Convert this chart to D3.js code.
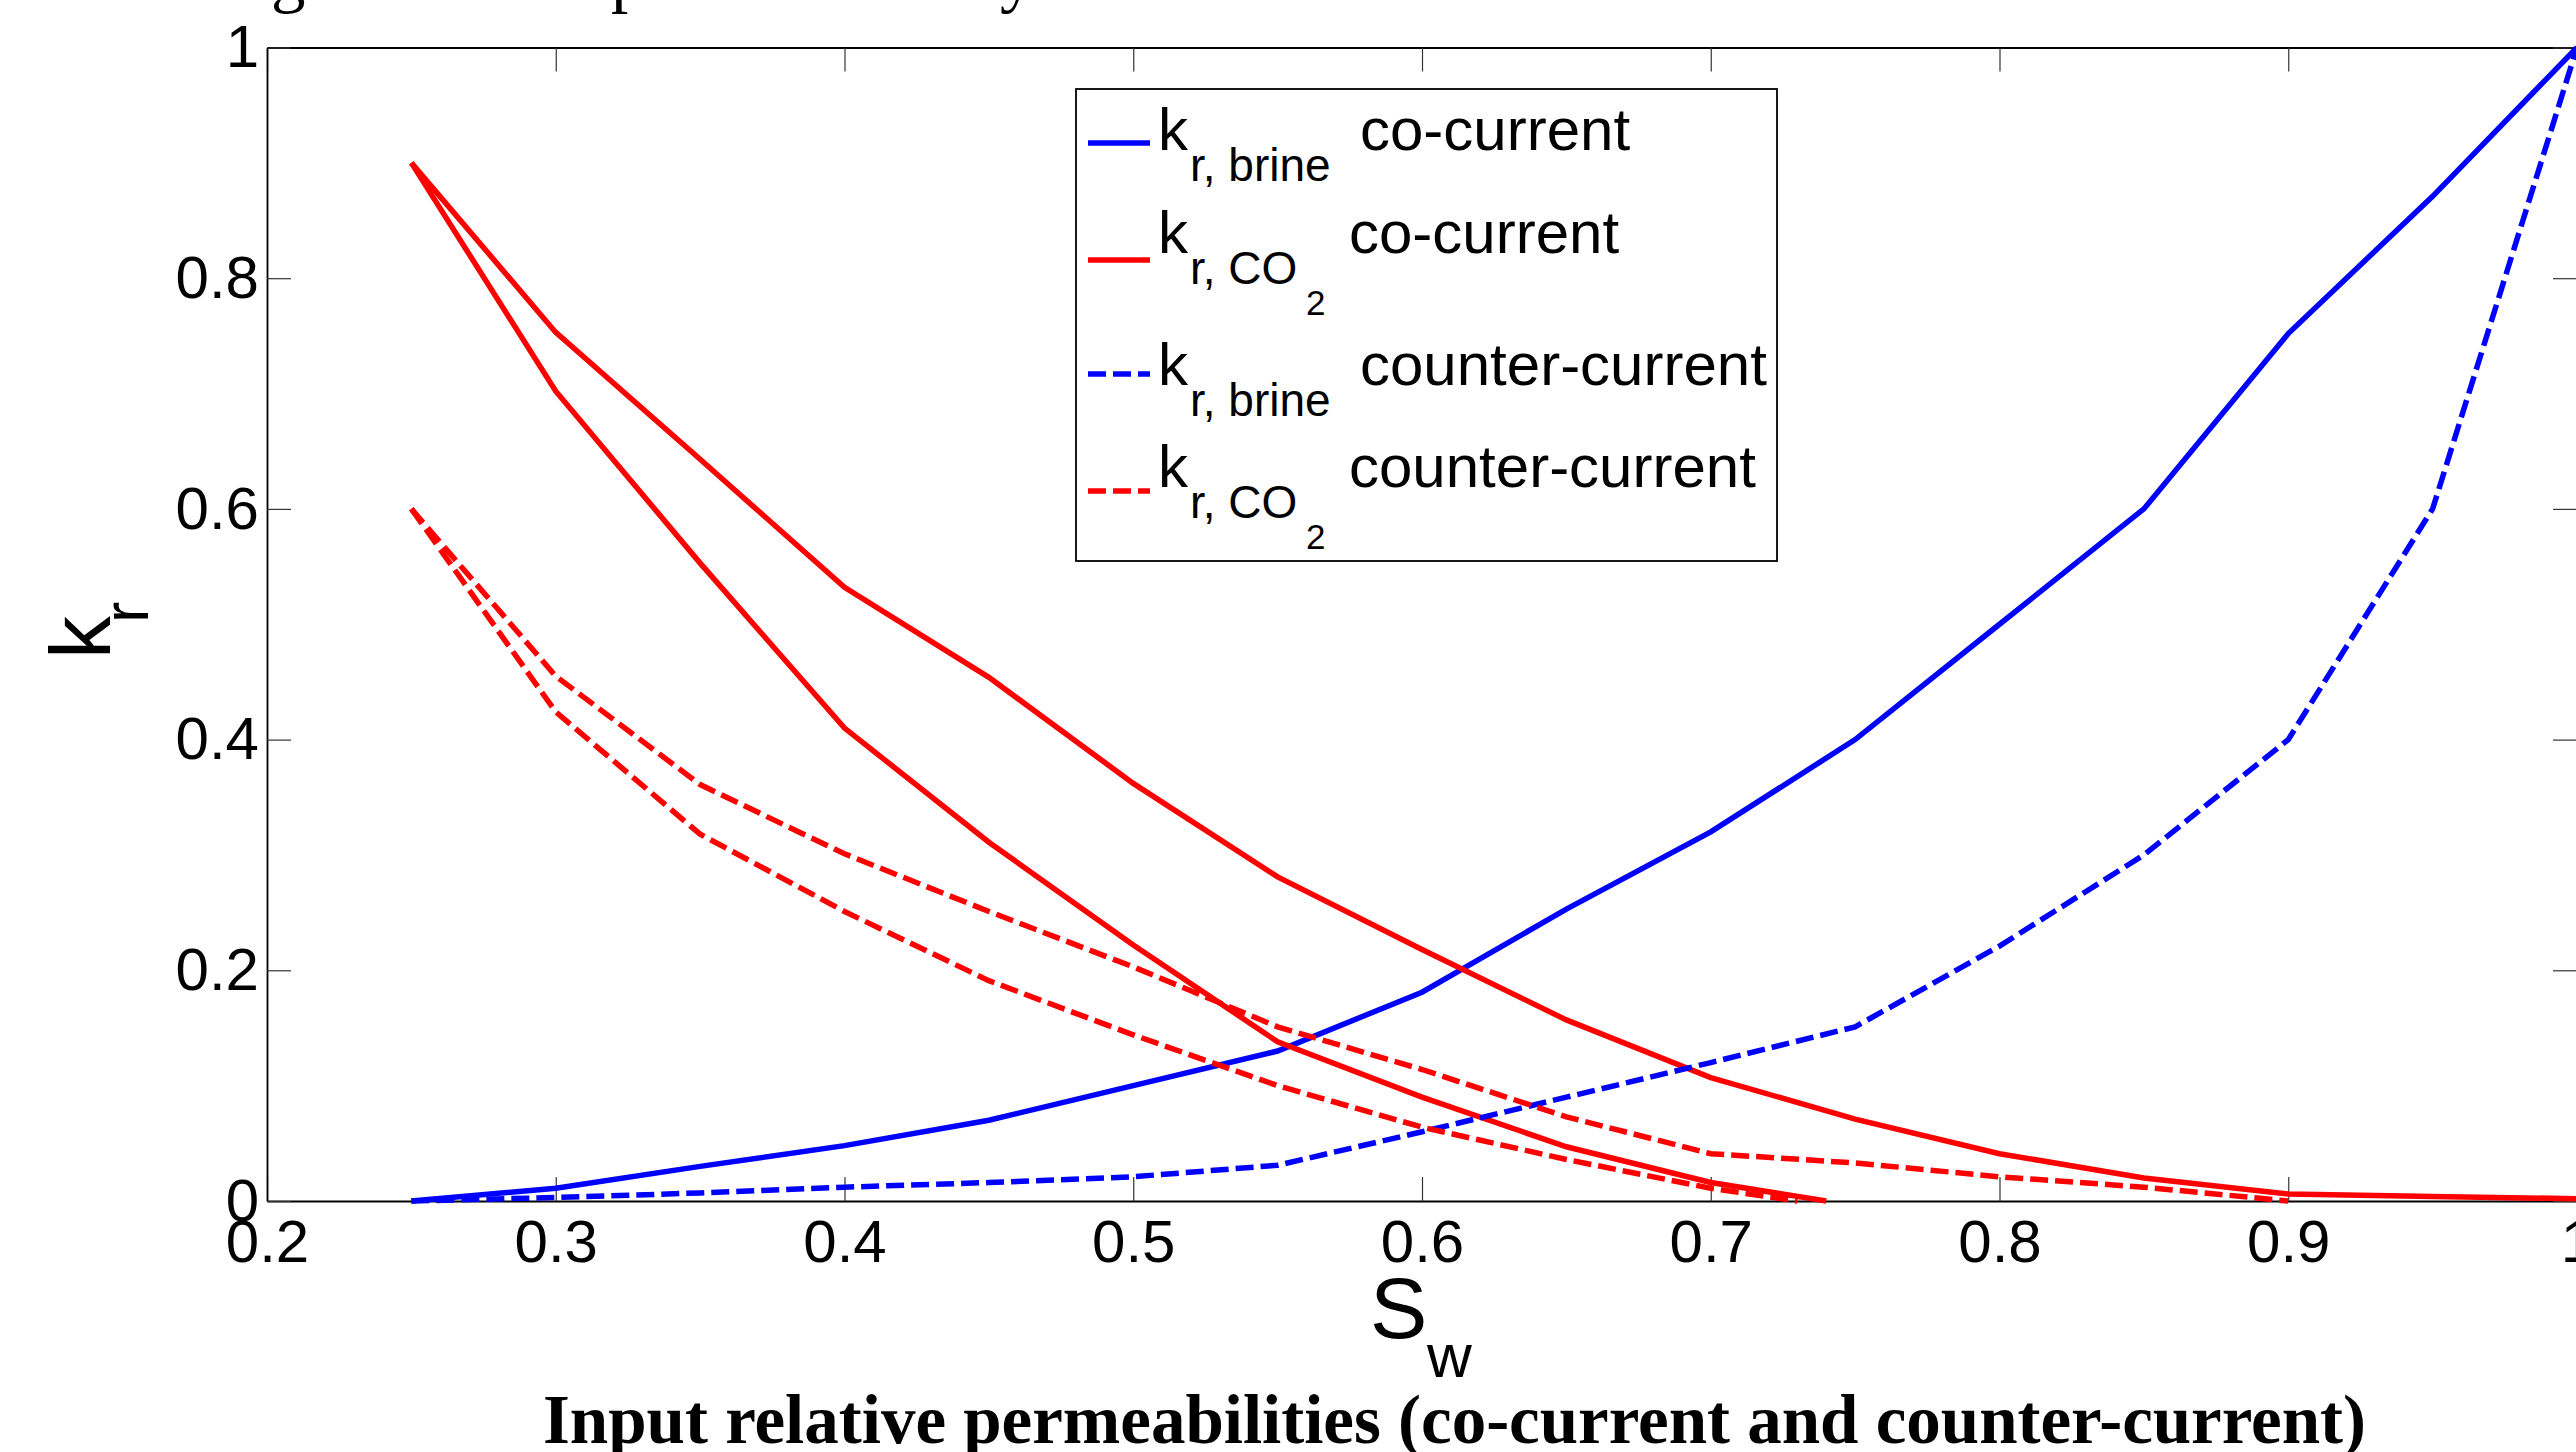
<!DOCTYPE html>
<html>
<head>
<meta charset="utf-8">
<script src="https://cdn.jsdelivr.net/npm/d3@7"></script>
<style>
  html, body { margin: 0; padding: 0; background: #fff; overflow: hidden; }
  svg { display: block; }
  .sans { font-family: "Liberation Sans", Arial, Helvetica, sans-serif; }
  .serif { font-family: "Liberation Serif", "Times New Roman", serif; font-weight: bold; }
  .serifReg { font-family: "Liberation Serif", "Times New Roman", serif; font-weight: normal; }
</style>
</head>
<body>
<script>
// ---------------- data ----------------
const sw = [0.25,0.3,0.35,0.4,0.45,0.5,0.55,0.6,0.65,0.7,0.75,0.8,0.85,0.9,0.95,1.0];
const krBrineCo = [0,0.011,0.03,0.048,0.07,0.1,0.13,0.181,0.253,0.32,0.4,0.5,0.6,0.752,0.871,1.0];
const krBrineCounter = [0,0.003,0.007,0.012,0.016,0.021,0.031,0.06,0.09,0.12,0.151,0.221,0.3,0.4,0.6,1.0];

const krCO2CoA = [0.9,0.753,0.643,0.532,0.454,0.362,0.281,0.218,0.157,0.107,0.071,0.041,0.02,0.006,0.004,0.002];
const swCO2CoB = [0.25,0.3,0.35,0.4,0.45,0.5,0.55,0.6,0.65,0.7,0.74];
const krCO2CoB = [0.9,0.702,0.553,0.41,0.311,0.222,0.138,0.09,0.047,0.016,0];

const swCO2CounterA = [0.25,0.3,0.35,0.4,0.45,0.5,0.55,0.6,0.65,0.7,0.75,0.8,0.85,0.9];
const krCO2CounterA = [0.6,0.455,0.361,0.301,0.251,0.203,0.151,0.114,0.073,0.041,0.033,0.021,0.012,0.0];
const swCO2CounterB = [0.25,0.3,0.35,0.4,0.45,0.5,0.55,0.6,0.65,0.7,0.73];
const krCO2CounterB = [0.6,0.424,0.318,0.251,0.191,0.144,0.1,0.064,0.036,0.011,0];

const xTicks = [0.2,0.3,0.4,0.5,0.6,0.7,0.8,0.9,1.0];
const xTickLabels = ["0.2","0.3","0.4","0.5","0.6","0.7","0.8","0.9","1"];
const yTicks = [0,0.2,0.4,0.6,0.8,1.0];
const yTickLabels = ["0","0.2","0.4","0.6","0.8","1"];

const legendItems = [
  {sub: "r, brine", two: false, text: "co-current", color: "#0000ff", dashed: false},
  {sub: "r, CO", two: true, text: "co-current", color: "#ff0000", dashed: false},
  {sub: "r, brine", two: false, text: "counter-current", color: "#0000ff", dashed: true},
  {sub: "r, CO", two: true, text: "counter-current", color: "#ff0000", dashed: true}
];
const captionText = "Input relative permeabilities (co-current and counter-current)";
const topLineGlyphs = ["g", "p", "y"];

// ---------------- layout ----------------
const W = 2576, H = 1452;
const X0 = 267, X1 = 2577, Y0 = 1201, Y1 = 47.5;
const DASH = "18,7";
const LW = 5.5;

const svg = d3.select("body").append("svg").attr("width", W).attr("height", H);

const x = d3.scaleLinear().domain([0.2, 1.0]).range([X0, X1]);
const y = d3.scaleLinear().domain([0, 1]).range([Y0, Y1]);

// top cut-off caption line (only descenders visible)
const topLineX = [271, 611, 1000];
topLineGlyphs.forEach((ch, i) => {
  svg.append("text").attr("class", "serifReg").attr("x", topLineX[i]).attr("y", -1)
    .attr("font-size", 69).text(ch);
});

// axes
const tickFmt = labels => (d, i) => labels[i];
const gB = svg.append("g").attr("transform", `translate(0,${Y0})`)
  .call(d3.axisBottom(x).tickValues(xTicks).tickFormat(tickFmt(xTickLabels)).tickSizeInner(-24).tickSizeOuter(0).tickPadding(18));
const gT = svg.append("g").attr("transform", `translate(0,${Y1})`)
  .call(d3.axisTop(x).tickValues(xTicks).tickFormat("").tickSizeInner(-24).tickSizeOuter(0));
const gL = svg.append("g").attr("transform", `translate(${X0},0)`)
  .call(d3.axisLeft(y).tickValues(yTicks).tickFormat(tickFmt(yTickLabels)).tickSizeInner(-24).tickSizeOuter(0).tickPadding(8));
const gR = svg.append("g").attr("transform", `translate(${X1},0)`)
  .call(d3.axisRight(y).tickValues(yTicks).tickFormat("").tickSizeInner(-24).tickSizeOuter(0));

[gB, gT, gL, gR].forEach(g => {
  g.select(".domain").attr("stroke", "#000").attr("stroke-width", 1.8);
  g.selectAll(".tick line").attr("stroke", "#333").attr("stroke-width", 1.2);
  g.selectAll("text").attr("class", "sans").attr("font-size", 60).attr("fill", "#000");
});

// lines
const line = (xs, ys) => d3.line().x((d, i) => x(xs[i])).y(d => y(d))(ys);
const series = [
  {xs: sw, ys: krBrineCo, color: "#0000ff", dashed: false},
  {xs: sw, ys: krCO2CoA, color: "#ff0000", dashed: false},
  {xs: swCO2CoB, ys: krCO2CoB, color: "#ff0000", dashed: false},
  {xs: sw, ys: krBrineCounter, color: "#0000ff", dashed: true},
  {xs: swCO2CounterA, ys: krCO2CounterA, color: "#ff0000", dashed: true},
  {xs: swCO2CounterB, ys: krCO2CounterB, color: "#ff0000", dashed: true}
];
series.forEach(s => {
  svg.append("path").attr("d", line(s.xs, s.ys))
    .attr("fill", "none").attr("stroke", s.color).attr("stroke-width", LW)
    .attr("stroke-linejoin", "miter").attr("stroke-linecap", "butt")
    .attr("stroke-dasharray", s.dashed ? DASH : null);
});

// axis labels
const yl = svg.append("g").attr("class", "sans");
yl.append("text").attr("transform", "translate(110,659) rotate(-90)").attr("font-size", 86).text("k");
yl.append("text").attr("transform", "translate(148,623) rotate(-90)").attr("font-size", 64).text("r");

svg.append("text").attr("class", "sans").attr("x", 1370).attr("y", 1338).attr("font-size", 86).text("S");
svg.append("text").attr("class", "sans").attr("x", 1427).attr("y", 1377).attr("font-size", 62).text("w");

// legend
const lg = svg.append("g").attr("class", "sans");
lg.append("rect").attr("x", 1076).attr("y", 89).attr("width", 701).attr("height", 472)
  .attr("fill", "#fff").attr("stroke", "#000").attr("stroke-width", 1.8);
const rowK = [150, 253, 385, 487];
const rowLine = [143, 260, 374, 491];
legendItems.forEach((it, i) => {
  const kb = rowK[i];
  lg.append("line").attr("x1", 1088).attr("x2", 1150).attr("y1", rowLine[i]).attr("y2", rowLine[i])
    .attr("stroke", it.color).attr("stroke-width", LW)
    .attr("stroke-dasharray", it.dashed ? DASH : null);
  lg.append("text").attr("x", 1158).attr("y", kb).attr("font-size", 60).text("k");
  lg.append("text").attr("x", 1190).attr("y", kb + 31).attr("font-size", 46).text(it.sub);
  if (it.two) lg.append("text").attr("x", 1306).attr("y", kb + 62).attr("font-size", 35).text("2");
  lg.append("text").attr("x", it.two ? 1349 : 1360).attr("y", kb).attr("font-size", 60).text(it.text);
});

// caption
svg.append("text").attr("class", "serif").attr("x", 543).attr("y", 1443)
  .attr("font-size", 69).attr("textLength", 1823).attr("lengthAdjust", "spacingAndGlyphs")
  .text(captionText);
</script>
</body>
</html>
